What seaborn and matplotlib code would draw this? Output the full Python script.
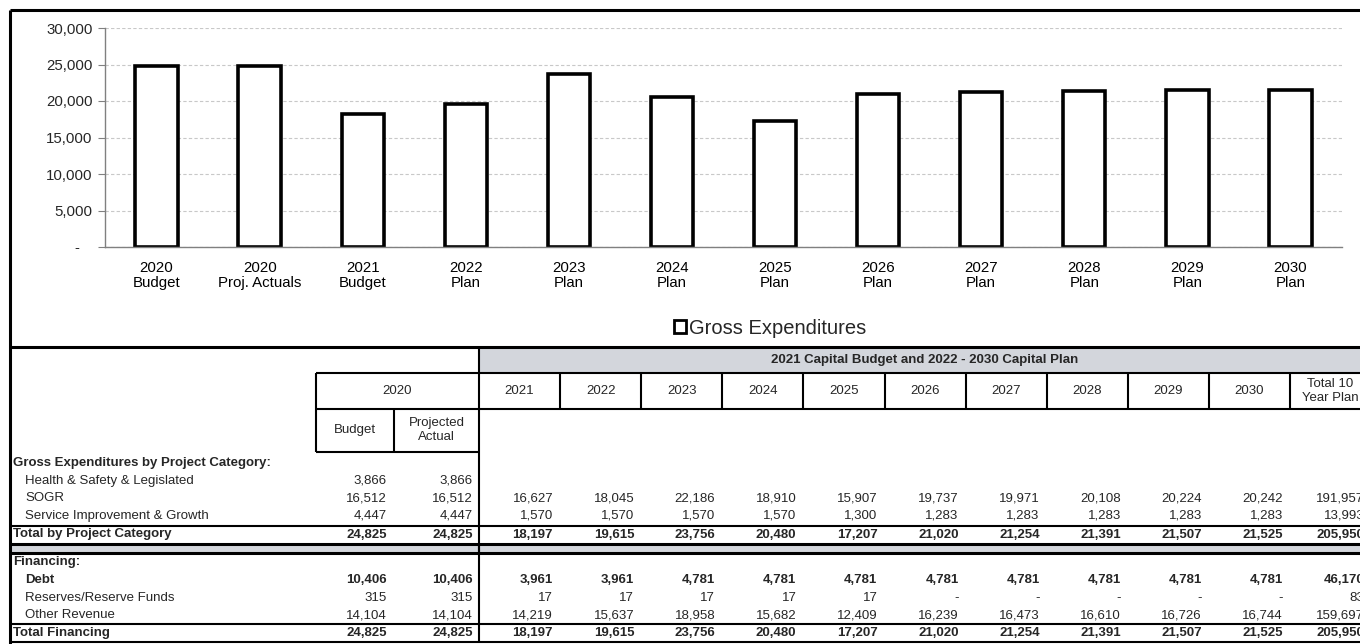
import matplotlib
matplotlib.use("Agg")
import matplotlib.pyplot as plt
import seaborn as sns
import pandas as pd
from matplotlib.patches import Patch, Rectangle
from matplotlib.ticker import FuncFormatter

# ---------------- data ----------------
bar_labels = ["2020\nBudget", "2020\nProj. Actuals", "2021\nBudget", "2022\nPlan", "2023\nPlan",
              "2024\nPlan", "2025\nPlan", "2026\nPlan", "2027\nPlan", "2028\nPlan", "2029\nPlan", "2030\nPlan"]
gross_expenditures = [24825, 24825, 18197, 19615, 23756, 20480, 17207, 21020, 21254, 21391, 21507, 21525]
y_ticks = [0, 5000, 10000, 15000, 20000, 25000, 30000]

plan_years = ["2021", "2022", "2023", "2024", "2025", "2026", "2027", "2028", "2029", "2030", "Total 10\nYear Plan"]
sub_2020 = ["Budget", "Projected\nActual"]

row_names = ["Gross Expenditures by Project Category:", "Health & Safety & Legislated", "SOGR",
             "Service Improvement & Growth", "Total by Project Category",
             "Financing:", "Debt", "Reserves/Reserve Funds", "Other Revenue", "Total Financing"]
row_bold = [True, False, False, False, True, True, True, False, False, True]
row_indent = [False, True, True, True, False, False, True, True, True, False]

health = ["3,866", "3,866", "", "", "", "", "", "", "", "", "", "", ""]
sogr = ["16,512", "16,512", "16,627", "18,045", "22,186", "18,910", "15,907", "19,737", "19,971",
        "20,108", "20,224", "20,242", "191,957"]
service = ["4,447", "4,447", "1,570", "1,570", "1,570", "1,570", "1,300", "1,283", "1,283", "1,283",
           "1,283", "1,283", "13,993"]
total_cat = ["24,825", "24,825", "18,197", "19,615", "23,756", "20,480", "17,207", "21,020", "21,254",
             "21,391", "21,507", "21,525", "205,950"]
debt = ["10,406", "10,406", "3,961", "3,961", "4,781", "4,781", "4,781", "4,781", "4,781", "4,781",
        "4,781", "4,781", "46,170"]
reserves = ["315", "315", "17", "17", "17", "17", "17", "-", "-", "-", "-", "-", "83"]
other_rev = ["14,104", "14,104", "14,219", "15,637", "18,958", "15,682", "12,409", "16,239", "16,473",
             "16,610", "16,726", "16,744", "159,697"]
total_fin = ["24,825", "24,825", "18,197", "19,615", "23,756", "20,480", "17,207", "21,020", "21,254",
             "21,391", "21,507", "21,525", "205,950"]
row_values = [None, health, sogr, service, total_cat, None, debt, reserves, other_rev, total_fin]

# ---------------- style ----------------
sns.set_style("white")
plt.rcParams["font.family"] = ["Liberation Sans", "DejaVu Sans"]

W, H = 1360, 644
fig = plt.figure(figsize=(W / 100, H / 100), dpi=100)

# ---------------- bar chart ----------------
ax = fig.add_axes([105 / W, 1 - 247 / H, (1342 - 105) / W, (247 - 28) / H])
df = pd.DataFrame({"cat": bar_labels, "val": gross_expenditures})
sns.barplot(data=df, x="cat", y="val", ax=ax, color="white", edgecolor="black",
            linewidth=2.6, width=0.41, saturation=1)
ax.set_xlim(-0.5, len(bar_labels) - 0.5)
ax.set_ylim(0, 30000)
ax.set_yticks(y_ticks)
ax.yaxis.set_major_formatter(FuncFormatter(lambda v, p: "-   " if v == 0 else f"{v:,.0f}"))
ax.set_xlabel("")
ax.set_ylabel("")
ax.grid(axis="y", color="#c8c8c8", linestyle=(0, (3, 2)), linewidth=0.8)
ax.set_axisbelow(True)
for s in ["top", "right"]:
    ax.spines[s].set_visible(False)
for s in ["left", "bottom"]:
    ax.spines[s].set_color("#808080")
    ax.spines[s].set_linewidth(1.0)
ax.set_xticks([i - 0.5 for i in range(len(bar_labels) + 1)], minor=True)
ax.tick_params(axis="x", which="major", length=0, labelsize=10.8, pad=10, colors="black")
ax.tick_params(axis="x", which="minor", length=4, color="#808080", direction="out")
ax.tick_params(axis="y", length=5, color="#808080", labelsize=10.8, pad=4, left=True)
for t in ax.get_xticklabels():
    t.set_linespacing(1.08)

# legend
fig.legend(handles=[Patch(facecolor="white", edgecolor="black", linewidth=2, label="Gross Expenditures")],
           loc="center left", bbox_to_anchor=(674 / W, 1 - 328 / H), frameon=False, fontsize=14.5,
           handlelength=0.62, handleheight=0.62, handletextpad=0.12, borderpad=0, borderaxespad=0)

# ---------------- table overlay ----------------
tx = fig.add_axes([0, 0, 1, 1], facecolor="none")
tx.set_xlim(0, W)
tx.set_ylim(H, 0)
tx.axis("off")

gray = "#d3d6dc"
FS = 9.5

def hline(y, x0, x1, lw=1.5):
    tx.plot([x0, x1], [y, y], color="black", lw=lw, solid_capstyle="butt")

def vline(x, y0, y1, lw=1.5):
    tx.plot([x, x], [y0, y1], color="black", lw=lw, solid_capstyle="butt")

# outer frame
hline(10, 10, W, 2.2)
vline(10, 10, H, 2.2)
hline(347, 10, W, 2.2)

# header band
tx.add_patch(Rectangle((479, 347), W - 479, 26, facecolor=gray, edgecolor="none"))
tx.text(925, 360, "2021 Capital Budget and 2022 - 2030 Capital Plan", ha="center", va="center",
        fontsize=FS, fontweight="bold")

col_w = 81.1
col_left = [479 + col_w * k for k in range(len(plan_years))]
hline(373, 316, W)
hline(409, 316, W)
hline(452, 316, 479)
vline(316, 373, 452)
vline(394, 409, 452)
vline(479, 347, 642)
for xl in col_left[1:]:
    vline(xl, 373, 409)
for xl, lab in zip(col_left, plan_years):
    tx.text(xl + col_w / 2, 391, lab, ha="center", va="center", fontsize=FS, linespacing=1.25)
tx.text((316 + 479) / 2, 391, "2020", ha="center", va="center", fontsize=FS)
tx.text((316 + 394) / 2, 430, sub_2020[0], ha="center", va="center", fontsize=FS)
tx.text((394 + 479) / 2, 430, sub_2020[1], ha="center", va="center", fontsize=FS, linespacing=1.25)

# separators in body
hline(526, 10, W)
tx.add_patch(Rectangle((10, 544), W - 10, 9, facecolor=gray, edgecolor="none"))
hline(544, 10, W, 2.2)
hline(553, 10, W, 2.2)
vline(479, 544, 553)
hline(624, 10, W)
hline(642, 10, W)

row_y = [463, 480.5, 498, 516, 534.5, 562, 580, 598, 615.5, 633]
num_right = [387, 473] + [xl + col_w - 7 for xl in col_left]
for name, bold, ind, vals, y in zip(row_names, row_bold, row_indent, row_values, row_y):
    tx.text(25 if ind else 13, y, name, ha="left", va="center", fontsize=FS,
            fontweight="bold" if bold else "normal")
    if vals is None:
        continue
    for xr, v in zip(num_right, vals):
        if v:
            tx.text(xr, y, v, ha="right", va="center", fontsize=FS,
                    fontweight="bold" if bold else "normal")

fig.savefig("out.png", dpi=100)
